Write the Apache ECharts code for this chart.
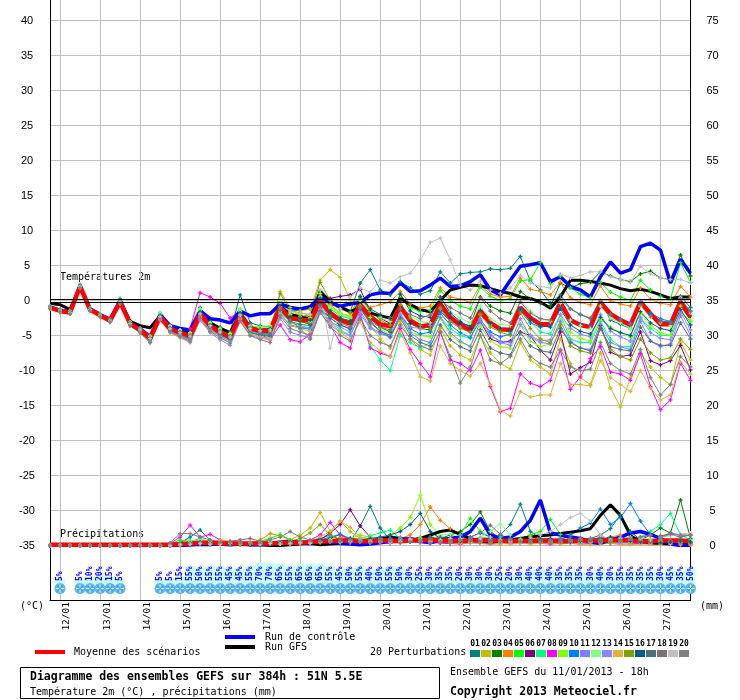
<!DOCTYPE html>
<html><head><meta charset="utf-8">
<script src="https://cdn.jsdelivr.net/npm/echarts@6/dist/echarts.min.js"></script>
<style>html,body{margin:0;padding:0;background:#fff}#c{width:740px;height:700px}</style>
</head><body><div id="c"></div>
<script>
// ---- time axis labels ----
const dayLabels = ['11/01','12/01','13/01','14/01','15/01','16/01','17/01','18/01','19/01','20/01','21/01','22/01','23/01','24/01','25/01','26/01','27/01'];
const hourLabels = ['00','06','12','18'];
const leftTicks = [-35,-30,-25,-20,-15,-10,-5,0,5,10,15,20,25,30,35,40];
const rightTicks = [0,5,10,15,20,25,30,35,40,45,50,55,60,65,70,75];

// ---- temperature 2m (°C) ----
const tMean = [-1.0,-1.5,-1.7,2.0, -1.3,-2.1,-2.9,-0.2, -3.3,-4.2,-5.4,-2.3, -4.0,-4.6,-5.1,-1.9, -3.6,-4.5,-5.2,-2.1, -4.0,-4.3,-4.2,-1.0, -2.5,-2.7,-2.9,0.0, -1.8,-2.8,-3.3,-0.6, -2.3,-3.4,-3.7,-0.9, -2.9,-3.7,-3.5,-0.5, -2.4,-3.5,-4.2,-1.5, -3.2,-4.1,-4.2,-1.0, -2.5,-3.4,-3.4,-0.3, -2.8,-3.5,-3.8,-0.3, -1.9,-2.8,-3.5,-0.2, -1.9,-3.4,-3.4,-0.2, -2.4];
const tCtrl = [-0.9,-1.4,-1.6,2.1, -1.2,-2.0,-2.7,0.0, -3.2,-4.0,-5.2,-2.0, -3.6,-4.0,-4.2,-1.5, -2.6,-2.8,-3.2,-1.5, -2.2,-1.9,-1.9,-0.5, -1.0,-1.2,-0.9,0.5, -0.3,-0.8,-0.5,-0.3, 0.8,1.1,1.0,2.5, 1.3,1.4,2.2,3.2, 2.0,2.1,2.7,3.7, 1.5,0.8,2.9,4.9, 5.1,5.4,2.7,3.4, 2.0,1.5,0.5,3.4, 5.5,3.9,4.4,7.7, 8.2,7.2,2.5,5.9, 3.9];
const tGfs = [-0.4,-0.6,-1.3,2.0, -1.2,-2.0,-2.8,0.0, -3.0,-3.6,-3.9,-2.2, -3.8,-4.2,-4.6,-1.5, -3.2,-4.0,-4.6,-1.8, -3.8,-4.3,-4.4,-0.8, -2.0,-2.4,-2.6,1.3, -0.2,-0.9,-1.6,-1.0, -1.8,-2.2,-2.5,0.3, -0.6,-1.3,-1.6,0.0, 1.5,1.9,2.2,2.1, 1.7,1.3,1.0,0.5, 0.3,-0.2,-1.1,0.5, 2.9,2.9,2.7,2.5, 2.2,1.7,1.4,1.6, 1.3,0.8,0.3,0.5, 0.5];
const t01 = [-0.8,-1.3,-1.5,2.3, -1.1,-1.9,-2.7,0.3, -3.1,-4.0,-5.0,-1.8, -3.6,-4.2,-4.6,-1.0, -3.0,-3.8,-4.5,0.8, -3.2,-3.6,-3.8,-0.2, -1.5,-1.4,-1.2,1.4, -0.5,-1.2,-1.6,2.5, 4.4,1.5,0.8,2.7, 1.8,0.9,1.4,4.1, 2.5,3.8,4.0,4.1, 4.5,4.4,4.6,6.3, 2.8,1.5,-0.4,0.8, -1.2,-2.0,-2.6,-0.1, -2.8,-3.4,-4.0,-0.5, -2.0,-2.9,-3.1,0.6, -1.0];
const t02 = [-1.1,-1.6,-1.8,1.8, -1.4,-2.2,-3.0,-0.4, -3.5,-4.4,-5.7,-2.6, -4.3,-5.0,-5.6,-2.2, -4.0,-5.0,-5.8,-2.6, -4.5,-4.9,-4.8,1.3, -1.0,-1.5,-1.2,2.9, 4.4,3.3,0.0,-0.8, -3.5,-5.5,-6.8,-3.0, -5.5,-7.0,-7.8,-4.0, -6.5,-7.8,-8.5,-5.0, -7.5,-9.0,-9.8,-6.0, -8.5,-9.5,-10.5,-5.5, -9.0,-11.0,-12.0,-7.5, -12.5,-15.2,-11.0,-7.5, -9.5,-11.0,-12.0,-6.0, -8.5];
const t03 = [-1.0,-1.4,-1.7,2.1, -1.3,-2.0,-2.8,-0.1, -3.3,-4.3,-5.6,-2.4, -4.1,-4.8,-5.4,-2.0, -3.8,-4.8,-5.5,-2.3, -4.5,-5.0,-5.1,-1.5, -2.8,-3.0,-3.4,-0.5, -2.0,-2.9,-3.2,-0.2, -2.6,-3.8,-4.5,-1.2, -3.3,-4.0,-4.2,-1.5, -3.0,-3.3,-3.6,0.5, -0.8,-1.5,-1.8,1.3, 0.2,-0.4,-0.8,2.5, 1.8,2.4,2.6,4.1, 3.5,3.0,2.7,3.8, 4.2,3.2,3.0,6.5, 3.5];
const t04 = [-1.2,-1.7,-1.9,1.8, -1.5,-2.3,-3.1,-0.4, -3.5,-4.5,-5.9,-2.6, -4.4,-5.0,-5.6,-2.3, -4.1,-5.0,-5.6,-2.4, -4.6,-4.9,-4.7,-0.9, -2.0,-2.1,-2.3,0.8, -0.6,-1.8,-2.3,0.2, -1.0,-0.6,-0.2,1.3, -0.5,-1.1,-0.8,1.8, 0.5,0.2,-0.3,2.2, 0.9,0.5,0.6,3.2, 1.6,1.3,0.8,2.6, 0.4,-0.3,-0.6,2.1, 0.0,-0.5,-0.8,1.8, 0.2,-0.4,-0.6,2.0, 0.5];
const t05 = [-0.9,-1.5,-1.6,2.0, -1.2,-2.0,-2.8,0.0, -3.2,-4.1,-5.2,-2.0, -3.8,-4.4,-4.9,-1.5, -3.5,-4.3,-5.0,-1.8, -3.8,-4.0,-3.9,-0.5, -2.0,-2.3,-2.5,0.6, -1.2,-2.2,-2.6,0.4, -1.5,-2.3,-2.5,0.9, -1.0,-1.6,-1.4,1.4, 0.0,-0.8,-1.2,1.9, 0.6,0.0,0.3,2.8, 3.0,5.4,2.4,3.5, 1.8,0.9,0.4,2.6, 1.2,0.5,0.0,2.9, 1.5,0.6,0.2,5.4, 2.6];
const t06 = [-1.0,-1.6,-1.8,1.9, -1.4,-2.2,-3.0,-0.3, -3.4,-4.3,-5.5,-2.4, -4.2,-4.7,-5.3,-2.0, -3.7,-4.6,-5.3,-2.2, -4.1,-4.4,-4.3,-0.2, -2.0,-2.1,-2.3,0.9, 0.3,0.6,0.8,1.6, -1.5,-2.5,-3.3,-0.2, -3.0,-3.5,-3.8,-1.0, -2.5,-3.2,-4.0,-3.0, -5.5,-6.0,-5.8,-4.5, -5.0,-7.1,-8.5,-4.5, -10.5,-9.6,-8.8,-3.6, -7.4,-8.0,-7.8,-4.5, -8.6,-9.2,-8.6,-6.4, -9.9];
const t07 = [-1.1,-1.6,-1.8,1.9, -1.4,-2.2,-3.0,-0.3, -3.4,-4.4,-5.6,-2.3, -4.2,-4.9,-5.5,-1.4, -3.4,-4.5,-5.2,-2.0, -4.4,-4.6,-4.5,-1.6, -3.2,-3.6,-3.9,-0.8, -3.0,-4.2,-5.0,-2.0, -6.5,-8.5,-10.0,-5.0, -6.0,-6.8,-6.0,-2.4, -4.0,-5.0,-5.4,-2.0, -3.5,-4.0,-4.6,-1.2, -3.0,-4.5,-4.8,-2.0, -5.5,-6.0,-6.0,-3.0, -5.5,-6.6,-6.6,-2.5, -4.0,-5.0,-5.0,-1.6, -3.0];
const t08 = [-1.0,-1.5,-1.7,2.0, -1.3,-2.1,-2.9,-0.2, -3.3,-4.2,-5.3,-2.2, -3.8,-4.2,-4.0,1.1, 0.5,-0.4,-2.5,-1.5, -3.5,-4.8,-5.6,-3.5, -5.6,-5.9,-4.8,-1.0, -3.5,-6.0,-6.8,-2.0, -6.8,-7.5,-8.0,-4.0, -7.0,-9.0,-10.9,-4.5, -8.5,-9.0,-10.0,-7.1, -12.3,-15.9,-15.4,-10.5, -11.8,-12.3,-11.4,-7.1, -12.7,-10.9,-8.3,-6.6, -10.2,-10.5,-11.4,-7.6, -12.3,-15.6,-14.2,-9.0, -11.4];
const t09 = [-0.9,-1.4,-1.6,2.1, -1.2,-2.0,-2.8,0.1, -3.1,-4.0,-5.1,-1.9, -3.7,-4.3,-4.8,-1.3, -3.2,-4.0,-4.7,-1.2, -3.6,-3.8,-3.6,-0.2, -1.7,-2.0,-2.4,1.0, -0.9,-1.8,-2.3,0.6, -2.4,-4.0,-5.0,-2.0, -4.5,-5.0,-5.2,-2.5, -5.0,-6.0,-6.5,-3.6, -5.8,-6.6,-6.8,-3.5, -5.8,-6.6,-6.2,-2.8, -4.5,-5.4,-5.8,-2.6, -3.8,-4.6,-5.2,-1.8, -3.6,-4.6,-5.0,-0.8, -2.8];
const t10 = [-1.1,-1.6,-1.8,1.9, -1.3,-2.2,-3.0,-0.3, -3.5,-4.5,-5.8,-2.5, -4.3,-5.0,-5.6,-2.1, -3.9,-4.9,-5.6,-2.3, -4.6,-4.9,-5.0,-1.8, -3.6,-3.9,-4.1,-1.2, -2.5,-3.5,-4.1,-1.0, -3.0,-4.4,-5.0,-2.0, -4.0,-4.8,-4.5,-1.8, -3.5,-4.6,-5.3,-2.8, -4.5,-5.2,-4.8,-1.5, -3.2,-3.8,-3.6,-1.0, -2.8,-3.4,-3.6,-0.9, -2.0,-2.6,-3.2,-0.2, -1.8,-2.6,-3.0,0.2, -1.5];
const t11 = [-1.0,-1.5,-1.8,2.0, -1.4,-2.2,-3.0,-0.3, -3.4,-4.4,-5.6,-2.6, -4.4,-5.0,-5.6,-2.4, -4.2,-5.1,-5.8,-2.6, -4.8,-5.2,-5.4,-2.0, -3.5,-3.8,-4.0,-1.5, -3.0,-3.8,-4.5,-1.5, -3.8,-4.6,-5.3,-2.2, -4.6,-5.6,-6.0,-2.4, -4.6,-5.8,-6.6,-3.0, -5.0,-5.8,-6.0,-2.6, -5.2,-6.0,-6.2,-3.0, -5.8,-6.8,-7.0,-3.4, -6.0,-6.6,-7.0,-3.0, -5.8,-6.6,-6.2,-2.2, -5.0];
const t12 = [-0.8,-1.3,-1.5,2.2, -1.1,-1.9,-2.7,0.2, -3.1,-4.0,-5.1,-1.8, -3.6,-4.2,-4.6,-1.2, -3.2,-4.1,-4.8,-1.5, -3.8,-4.0,-3.8,0.0, -2.0,-2.6,-3.0,0.5, -1.0,-2.0,-2.5,0.0, -1.5,-2.5,-3.0,-0.5, -2.2,-3.0,-3.2,0.4, -1.6,-2.5,-3.2,-0.8, -2.6,-3.4,-3.6,0.0, -1.5,-2.6,-3.0,-0.4, -2.8,-3.6,-4.0,-0.8, -2.5,-3.2,-4.0,-0.8, -2.4,-3.2,-3.6,0.4, -1.8];
const t13 = [-1.1,-1.6,-1.8,2.0, -1.4,-2.2,-3.0,-0.4, -3.6,-4.6,-6.0,-2.7, -4.6,-5.3,-6.0,-2.8, -4.6,-5.6,-6.4,-3.0, -5.0,-5.4,-5.6,-2.6, -4.5,-5.0,-5.3,-1.8, -3.5,-4.5,-5.0,-1.9, -4.0,-4.8,-5.0,-2.0, -3.8,-4.0,-3.6,-1.2, -3.0,-3.8,-4.6,-2.6, -4.8,-6.0,-6.4,-3.4, -5.0,-5.8,-5.6,-2.0, -4.0,-4.8,-5.2,-2.0, -4.4,-5.2,-5.8,-2.4, -4.6,-5.4,-5.6,-1.6, -4.2];
const t14 = [-1.2,-1.7,-1.9,1.8, -1.5,-2.3,-3.1,-0.4, -3.6,-4.6,-6.0,-2.8, -4.6,-5.3,-5.8,-2.6, -4.4,-5.3,-6.0,-2.7, -4.8,-5.2,-5.5,-1.8, -3.5,-4.0,-4.4,-1.3, -3.2,-4.5,-5.6,-3.0, -6.0,-7.2,-8.0,-4.5, -7.5,-10.9,-11.5,-6.5, -9.0,-10.0,-10.8,-9.0, -12.0,-15.7,-16.5,-13.0, -13.8,-13.5,-13.5,-9.0, -12.0,-12.0,-12.2,-8.6, -11.0,-12.0,-13.0,-10.0, -12.5,-14.2,-13.5,-8.8, -10.5];
const t15 = [-1.0,-1.5,-1.7,2.0, -1.3,-2.1,-2.9,-0.2, -3.3,-4.2,-5.4,-2.3, -4.0,-4.6,-5.1,-1.8, -3.6,-4.5,-5.2,-2.0, -4.1,-4.4,-4.2,1.0, -1.4,-1.8,-2.0,2.6, 0.0,-1.2,-1.8,0.5, -1.5,-2.8,-3.5,-0.6, -2.5,-3.5,-4.0,-1.0, -3.0,-4.0,-4.5,-2.0, -3.8,-4.5,-5.0,-1.8, -4.0,-5.5,-6.0,-3.5, -6.5,-7.2,-7.5,-4.0, -7.0,-8.0,-8.5,-5.5, -7.5,-8.5,-8.2,-5.5, -7.0];
const t16 = [-0.9,-1.4,-1.6,2.1, -1.2,-2.0,-2.8,0.1, -3.2,-4.1,-5.3,-2.1, -3.9,-4.5,-5.0,-1.6, -3.5,-4.4,-5.1,-1.8, -3.9,-4.1,-4.0,-0.6, -2.3,-2.6,-2.8,0.3, -1.5,-2.5,-2.9,0.6, -1.2,-2.0,-2.6,0.9, -1.5,-2.2,-2.4,0.5, -1.8,-3.0,-3.8,-1.4, -3.2,-4.0,-4.2,-1.2, -2.8,-3.6,-3.8,-1.2, -3.5,-4.4,-4.8,-2.4, -4.0,-4.6,-5.0,-1.6, -3.2,-4.0,-4.3,-1.3, -3.5];
const t17 = [-1.0,-1.5,-1.7,2.0, -1.3,-2.1,-2.9,-0.2, -3.3,-4.2,-5.5,-2.4, -4.1,-4.7,-5.2,-1.9, -3.8,-4.7,-5.4,-2.3, -4.3,-4.7,-4.8,-1.4, -3.0,-3.4,-3.6,-0.6, -2.5,-3.5,-4.0,-1.2, -3.2,-4.4,-5.2,-2.5, -5.0,-6.0,-6.5,-3.5, -5.6,-6.6,-7.2,-4.2, -6.8,-7.5,-7.8,-4.6, -6.5,-7.2,-7.4,-4.0, -6.0,-6.8,-7.2,-4.0, -6.6,-7.0,-7.2,-3.8, -5.8,-6.4,-6.4,-3.2, -5.5];
const t18 = [-1.1,-1.6,-1.8,1.9, -1.4,-2.2,-3.0,-0.3, -3.4,-4.3,-5.5,-2.4, -4.1,-4.8,-5.3,-2.0, -3.8,-4.7,-5.4,-2.2, -4.3,-4.6,-4.6,-1.2, -2.8,-4.0,-5.5,-1.5, -2.2,-3.2,-3.8,-1.0, -3.0,-3.8,-4.2,-1.2, -2.0,-2.6,-2.0,0.0, -1.0,-1.8,-2.5,0.4, -1.5,-2.6,-3.2,-0.2, -1.8,-2.6,-2.8,0.2, -1.2,-2.0,-2.5,0.0, -2.0,-2.8,-3.4,-0.6, -2.2,-3.0,-3.2,0.2, -1.6];
const t19 = [-1.0,-1.5,-1.7,2.0, -1.3,-2.1,-2.9,-0.2, -3.3,-4.2,-5.4,-2.3, -4.0,-4.6,-5.1,-1.9, -3.6,-4.5,-5.2,-2.1, -4.0,-4.3,-4.2,-0.2, -1.5,-1.8,-2.0,1.5, -6.8,-1.2,0.5,1.8, 1.2,2.9,2.5,3.4, 3.9,5.8,8.3,8.9, 5.8,2.2,1.5,2.8, 1.5,1.0,1.8,3.6, 2.5,2.0,1.8,3.8, 3.2,3.6,4.1,4.1, 3.4,3.0,2.6,4.9, 3.8,3.2,3.0,3.0, 2.5];
const t20 = [-1.1,-1.6,-1.9,1.8, -1.5,-2.3,-3.1,-0.5, -3.6,-4.6,-6.0,-2.8, -4.5,-5.2,-5.8,-2.6, -4.4,-5.3,-6.1,-2.9, -5.0,-5.6,-6.0,-2.2, -4.0,-4.5,-5.0,-1.6, -3.8,-5.0,-5.8,-2.6, -5.0,-6.0,-6.5,-3.5, -5.5,-6.5,-7.0,-4.5, -8.0,-11.8,-9.5,-5.0, -8.5,-9.0,-8.0,-5.5, -8.0,-9.0,-9.5,-7.0, -9.5,-10.0,-9.8,-6.0, -9.0,-10.0,-10.5,-7.0, -11.0,-13.5,-12.0,-8.0, -9.5];

// ---- precipitation (mm, right axis) ----
const pMean = [0.1,0.1,0.1,0.1, 0.1,0.1,0.1,0.1, 0.1,0.1,0.1,0.1, 0.1,0.2,0.3,0.4, 0.4,0.3,0.3,0.3, 0.3,0.3,0.3,0.4, 0.4,0.4,0.5,0.6, 0.6,0.7,0.7,0.6, 0.6,0.7,0.7,0.6, 0.7,0.8,0.8,0.7, 0.7,0.6,0.7,0.8, 0.7,0.7,0.6,0.7, 0.6,0.7,0.7,0.6, 0.6,0.7,0.7,0.7, 0.8,0.8,0.7,0.6, 0.6,0.7,0.7,0.7, 0.6];
const pCtrl = [0,0,0,0, 0.1,0.1,0,0, 0,0,0,0, 0,0,0.1,0.2, 0.3,0.2,0.1,0.2, 0.1,0.1,0.2,0.5, 0.6,0.4,0.3,0.6, 0.5,0.3,0.2,0.1, 0.2,0.4,0.6,0.8, 1.0,0.6,0.4,0.8, 1.0,1.2,2.0,3.9, 1.5,1.0,1.2,2.0, 3.6,6.5,1.8,1.5, 1.2,1.0,0.5,0.3, 0.8,1.2,1.8,2.0, 1.6,1.0,0.2,0.0, 0.0];
const pGfs = [0,0,0,0, 0,0,0.1,0.1, 0,0,0,0, 0,0,0.1,0.1, 0.1,0.2,0.3,0.2, 0.1,0.1,0,0, 0.1,0.2,0.3,0.1, 0.2,0.3,0.5,0.4, 0.6,0.9,1.2,1.0, 0.8,1.0,1.5,2.0, 2.2,1.6,1.0,0.6, 0.5,0.6,0.8,1.0, 1.2,1.4,1.5,1.7, 1.9,2.1,2.4,4.3, 5.8,4.3,1.4,0.6, 0.4,0.3,0.2,0.1, 0.1];
const p01 = [0,0,0,0, 0.1,0.1,0,0, 0,0,0,0, 0,0.4,1.2,2.2, 0.8,0.4,0.2,0.3, 0.2,0.1,0.3,0.5, 0.4,0.3,0.6,1.0, 1.5,0.8,0.6,2.8, 5.6,2.5,0.8,0.5, 0.6,1.0,1.2,0.8, 0.6,0.4,0.5,0.8, 1.0,1.5,3.0,5.9, 2.0,1.0,0.6,0.4, 0.5,0.8,1.0,1.5, 2.4,4.4,2.0,0.8, 0.6,0.8,0.5,0.6, 0.4];
const p02 = [0,0,0,0, 0,0.1,0.1,0, 0,0,0,0, 0,0.2,0.5,0.6, 0.4,0.3,0.2,0.2, 0.3,0.4,0.6,0.5, 0.8,1.5,2.5,4.7, 2.0,3.5,2.0,1.0, 0.6,0.4,0.5,0.8, 1.0,0.8,0.5,0.4, 0.3,0.5,0.6,0.4, 0.3,0.2,0.4,0.6, 0.5,0.4,0.3,0.5, 0.6,0.8,0.5,0.4, 0.3,0.4,0.6,0.5, 0.3,0.2,0.4,0.3, 0.2];
const p03 = [0,0,0,0, 0,0,0.1,0, 0,0,0,0, 0,0.1,0.3,0.4, 0.2,0.3,0.2,0.1, 0.2,0.1,0.2,0.3, 0.4,0.6,0.5,0.8, 1.0,1.6,0.8,0.5, 0.4,0.6,0.8,0.6, 0.5,0.8,1.2,1.0, 1.5,2.0,3.0,4.8, 2.0,1.0,0.6,0.5, 0.4,0.6,0.8,0.6, 0.5,0.4,0.6,0.8, 1.0,0.8,0.6,0.8, 1.5,2.5,1.8,6.5, 1.0];
const p04 = [0,0,0,0, 0,0,0,0, 0,0,0,0, 0,0,0.2,0.4, 0.3,0.5,0.4,0.3, 0.2,0.8,1.7,1.4, 0.8,0.6,0.5,0.4, 0.6,1.2,0.8,0.5, 0.4,0.6,0.5,1.0, 1.5,3.0,5.5,3.6, 2.4,1.5,0.8,0.6, 0.5,0.4,0.6,0.8, 1.2,0.8,0.5,0.6, 0.8,1.0,0.6,0.5, 1.2,1.5,1.0,0.6, 0.5,0.4,0.6,0.5, 0.4];
const p05 = [0,0,0,0.1, 0.1,0,0,0, 0,0,0,0, 0.2,0.8,0.6,0.4, 0.3,0.2,0.2,0.3, 0.4,0.6,1.0,1.6, 0.8,0.5,0.4,0.6, 0.5,0.4,0.8,0.6, 0.5,0.8,1.0,0.6, 0.8,1.2,0.8,0.6, 0.8,1.5,3.9,2.0, 1.2,0.8,0.6,1.0, 1.5,2.0,3.7,1.6, 0.8,0.6,0.5,0.8, 1.0,0.6,0.5,0.4, 0.6,0.8,0.6,0.5, 0.4];
const p06 = [0,0,0,0, 0,0,0,0, 0,0,0,0, 0,0.1,0.2,0.3, 0.2,0.2,0.3,0.2, 0.1,0.2,0.3,0.2, 0.3,0.5,0.6,0.8, 1.8,3.0,5.1,2.8, 1.2,0.6,0.4,0.5, 0.6,0.8,0.5,0.4, 0.3,0.5,0.6,0.4, 0.3,0.5,0.6,0.4, 0.5,0.6,0.4,0.3, 0.4,0.5,0.6,0.4, 0.3,0.5,0.4,0.3, 0.4,0.3,0.2,0.3, 0.2];
const p07 = [0,0,0,0, 0,0,0,0, 0,0,0,0, 0,0.2,0.6,1.0, 0.5,0.3,0.2,0.2, 0.2,0.3,0.2,0.3, 0.4,0.3,0.5,0.6, 0.8,0.6,0.8,1.0, 1.4,1.8,2.2,1.0, 0.6,0.5,0.8,0.6, 0.8,0.6,0.5,0.6, 0.8,1.2,1.0,0.8, 0.6,0.5,0.6,0.4, 0.5,0.4,0.6,0.8, 0.6,1.0,0.8,1.2, 2.0,3.0,4.6,1.5, 0.8];
const p08 = [0,0,0,0, 0,0,0,0, 0,0,0,0, 0.3,1.2,2.9,1.2, 1.6,0.8,0.4,0.3, 0.2,0.2,0.3,0.4, 0.5,0.6,0.8,1.5, 3.3,1.5,0.8,0.6, 0.5,0.4,0.3,0.5, 0.6,0.4,0.3,0.4, 0.3,0.2,0.4,0.3, 0.2,0.3,0.4,0.3, 0.4,0.3,0.2,0.3, 0.3,0.2,0.3,0.4, 0.3,0.2,0.2,0.3, 0.2,0.3,0.2,0.2, 0.1];
const p09 = [0,0,0,0, 0,0,0,0, 0,0,0,0, 0,0.1,0.2,0.3, 0.2,0.3,0.4,0.3, 0.2,0.3,0.4,0.5, 0.6,0.8,0.6,0.5, 0.6,0.8,1.0,1.5, 1.2,1.0,1.5,2.5, 4.0,7.2,3.0,1.5, 0.8,0.6,0.5,0.6, 0.5,0.4,0.6,0.5, 0.4,0.6,0.8,0.5, 0.4,0.5,0.4,0.6, 0.8,0.6,0.4,0.5, 0.6,0.5,0.4,0.5, 0.3];
const p10 = [0,0,0,0, 0,0,0,0, 0,0,0,0, 0,0.1,0.2,0.2, 0.1,0.2,0.2,0.3, 0.2,0.1,0.2,0.3, 0.4,0.5,0.6,0.8, 1.2,1.6,1.0,0.8, 0.6,0.5,0.8,0.6, 0.5,0.6,0.4,0.5, 0.6,0.8,1.2,1.8, 1.2,0.8,0.6,0.5, 0.6,0.8,0.6,0.8, 1.5,2.5,3.2,5.2, 3.0,4.0,6.0,3.5, 1.5,1.0,0.6,0.4, 0.3];
const p11 = [0,0,0,0, 0,0,0,0, 0,0,0,0, 0,0.1,0.3,0.4, 0.3,0.2,0.2,0.3, 0.2,0.3,0.2,0.3, 0.3,0.4,0.5,0.6, 0.5,0.6,0.8,0.5, 0.4,0.6,0.8,1.2, 1.0,0.8,0.6,0.8, 1.0,1.4,1.0,0.8, 0.6,0.5,0.8,0.6, 0.5,0.6,0.8,1.0, 0.8,0.6,0.5,0.6, 0.8,1.2,0.8,0.6, 0.5,0.8,0.6,0.5, 0.4];
const p12 = [0,0,0,0, 0,0,0,0, 0,0,0,0, 0,0.2,0.5,0.8, 0.6,0.4,0.2,0.3, 0.2,0.4,0.6,0.5, 0.4,0.3,0.5,0.6, 0.8,0.5,0.6,0.8, 1.0,0.8,0.6,0.5, 0.8,1.0,0.8,1.5, 1.6,1.0,0.8,1.2, 2.0,3.1,1.5,0.8, 0.6,0.8,0.5,0.6, 0.5,0.6,0.8,0.5, 0.4,0.6,0.5,0.8, 1.0,0.6,0.5,0.4, 0.3];
const p13 = [0,0,0,0, 0,0,0,0, 0,0,0,0, 0,0.1,0.2,0.3, 0.2,0.2,0.3,0.2, 0.3,0.2,0.2,0.3, 0.2,0.3,0.4,0.5, 0.6,0.5,0.4,0.6, 0.8,1.0,0.8,0.6, 0.5,0.6,0.8,0.6, 0.5,0.4,0.6,0.8, 0.6,0.5,0.4,0.6, 0.8,0.6,0.5,0.4, 0.5,0.6,0.8,0.6, 0.5,0.4,0.6,0.8, 0.6,0.5,0.4,0.6, 0.5];
const p14 = [0,0,0,0, 0,0,0,0, 0,0,0,0, 0,0.1,0.3,0.6, 0.5,0.8,0.6,0.4, 0.3,0.2,0.3,0.2, 0.3,0.4,0.6,1.2, 2.0,3.5,2.6,1.2, 0.8,0.6,0.5,0.8, 0.6,0.4,0.5,0.6, 0.4,0.3,0.4,0.3, 0.2,0.3,0.2,0.3, 0.2,0.3,0.4,0.2, 0.3,0.2,0.1,0.2, 0.3,0.2,0.1,0.2, 0.2,0.1,0.2,0.1, 0.1];
const p15 = [0,0,0,0, 0,0,0,0, 0,0,0,0, 0,0.1,0.2,0.3, 0.2,0.3,0.2,0.3, 0.2,0.3,0.4,0.5, 0.6,1.0,1.8,3.0, 1.5,0.8,0.6,0.5, 0.4,0.5,0.6,0.4, 0.5,0.6,0.8,0.6, 0.4,0.5,0.6,0.5, 0.4,0.5,0.6,0.8, 0.6,0.5,0.4,0.5, 0.6,0.8,0.6,0.5, 0.4,0.6,0.8,0.6, 0.5,0.8,0.6,0.4, 0.3];
const p16 = [0,0,0,0, 0,0,0,0, 0,0,0,0, 0,0.1,0.3,0.5, 0.4,0.3,0.2,0.3, 0.2,0.3,0.2,0.4, 0.5,0.4,0.6,0.8, 0.6,0.8,1.0,0.8, 1.0,1.2,1.5,2.0, 3.0,4.6,2.0,1.0, 0.8,0.6,0.8,1.0, 1.2,0.8,0.6,0.8, 0.6,0.8,1.0,0.6, 0.5,0.6,0.8,1.0, 1.2,0.8,0.6,0.5, 0.6,0.4,0.5,0.6, 0.5];
const p17 = [0,0,0,0, 0,0,0,0, 0,0,0,0, 0,0.2,0.4,0.5, 0.3,0.2,0.3,0.2, 0.3,0.2,0.2,0.3, 0.4,0.5,0.6,0.5, 0.6,0.8,0.6,0.8, 0.6,0.8,1.0,0.8, 0.6,0.5,0.8,1.2, 1.0,0.8,0.6,0.5, 0.6,0.8,1.0,0.6, 0.5,0.6,0.8,1.0, 1.2,1.0,0.8,0.6, 0.8,1.0,1.2,0.8, 0.6,1.4,1.6,1.2, 1.5];
const p18 = [0,0,0,0, 0,0,0,0, 0,0,0,0, 0,0.1,0.2,0.2, 0.3,0.4,0.6,0.8, 1.0,0.6,0.4,0.3, 0.4,0.5,0.6,0.5, 0.6,0.5,0.4,0.5, 0.6,0.8,0.6,0.5, 0.6,0.8,1.0,0.8, 0.6,0.8,1.2,1.8, 2.9,1.6,0.8,0.6, 0.5,0.6,0.8,0.6, 0.8,1.0,0.8,1.2, 0.8,0.6,1.0,1.2, 1.6,1.2,1.8,1.5, 1.4];
const p19 = [0,0,0,0, 0,0,0,0, 0,0,0,0, 0,0.1,0.2,0.3, 0.2,0.2,0.3,0.2, 0.3,0.2,0.3,0.2, 0.3,0.4,0.3,0.5, 0.6,0.5,0.6,0.8, 0.6,0.5,0.4,0.6, 0.8,0.6,0.5,0.8, 1.0,0.8,0.6,1.0, 1.2,0.8,0.6,0.8, 1.2,1.5,2.0,3.0, 4.0,4.6,3.5,1.5, 0.8,1.0,1.2,1.0, 0.8,1.2,1.4,1.6, 1.8];
const p20 = [0,0,0,0, 0,0,0,0, 0,0,0,0, 0.4,1.7,1.7,1.2, 0.8,0.5,0.4,0.3, 0.3,0.5,0.8,1.2, 2.0,1.2,0.8,0.6, 0.5,0.6,0.8,0.6, 0.4,0.5,0.6,0.4, 0.5,0.6,0.4,0.5, 0.6,0.8,0.6,0.5, 0.4,0.6,0.8,0.6, 0.5,0.4,0.6,0.8, 0.6,0.8,1.0,0.8, 0.6,0.8,1.0,1.2, 1.4,1.2,1.6,1.5, 1.5];

// ---- snow probability (%) per 6h step ----
const snowPct = [null,5,null,5,10,20,15,5,null,null,null,5,5,15,55,50,55,55,45,45,55,70,70,65,55,65,65,65,55,45,50,55,40,50,55,50,30,25,30,35,35,20,30,30,30,25,20,30,40,40,40,35,35,35,30,40,30,35,35,35,35,30,45,35,50];

const pertNames = ['01','02','03','04','05','06','07','08','09','10','11','12','13','14','15','16','17','18','19','20'];
const pertColors = ['#008080','#c0c000','#008000','#ff8000','#00ff00','#800080','#00ff80','#ff00ff','#80ff00','#0080ff','#8080ff','#80ff80','#8888ff','#e0b040','#80a000','#006080','#507080','#807078','#c0c0c0','#808080'];
const pertTemps = [t01,t02,t03,t04,t05,t06,t07,t08,t09,t10,t11,t12,t13,t14,t15,t16,t17,t18,t19,t20];
const pertPrecs = [p01,p02,p03,p04,p05,p06,p07,p08,p09,p10,p11,p12,p13,p14,p15,p16,p17,p18,p19,p20];

// ---- build ----
const cats = [];
for (let i = 0; i < tMean.length; i++) {
  const k = 3 + i;
  cats.push(dayLabels[Math.floor(k / 4)] + ' ' + hourLabels[k % 4]);
}
const isMidnight = (idx, val) => String(val).endsWith(' 00');
const MONO = '"DejaVu Sans Mono", "Liberation Mono", monospace';
const plusSym = 'path://M1,0H2V1H3V2H2V3H1V2H0V1H1Z';

function pertSeries(name, data, color, yIdx) {
  return { type: 'line', name: name, xAxisIndex: 1, yAxisIndex: yIdx, data: data,
    symbol: plusSym, symbolSize: 4, showAllSymbol: true, silent: true, animation: false,
    lineStyle: { color: color, width: 1 }, itemStyle: { color: color } };
}
function mainSeries(name, data, color, width, yIdx) {
  return { type: 'line', name: name, xAxisIndex: 1, yAxisIndex: yIdx, data: data,
    symbol: 'none', silent: true, animation: false, lineStyle: { color: color, width: width } };
}

const series = [];
series.push({ type: 'line', name: 'zero', xAxisIndex: 1, yAxisIndex: 2, data: tMean.map(() => null), silent: true, animation: false,
  markLine: { silent: true, symbol: 'none', animation: false, label: { show: false },
    lineStyle: { color: '#000', width: 1, type: 'solid' }, data: [{ yAxis: 0.22 }, { yAxis: -0.2 }] } });
pertPrecs.forEach((d, k) => series.push(pertSeries('P' + pertNames[k], d, pertColors[k], 3)));
pertTemps.forEach((d, k) => series.push(pertSeries('T' + pertNames[k], d, pertColors[k], 2)));
series.push(mainSeries('pGfs', pGfs, '#000000', 3, 3));
series.push(mainSeries('pCtrl', pCtrl, '#0000ff', 3.5, 3));
series.push(mainSeries('pMean', pMean, '#ff0000', 4.5, 3));
series.push(mainSeries('tGfs', tGfs, '#000000', 3, 2));
series.push(mainSeries('tCtrl', tCtrl, '#0000ff', 3.5, 2));
series.push(mainSeries('tMean', tMean, '#ff0000', 4.5, 2));

const snowData = [];
snowPct.forEach((v, i) => { if (v != null) snowData.push([i, v]); });
series.push({
  type: 'custom', name: 'snow', xAxisIndex: 2, yAxisIndex: 4, data: snowData, silent: true, animation: false,
  renderItem: function (params, api) {
    const i = api.value(0), pct = api.value(1);
    const base = api.coord([i, 0]);
    const x = base[0];
    const yTop = api.coord([i, pct])[1];
    const yBot = api.coord([i, -16])[1];
    const ys = api.coord([i, -34])[1];
    const lc = '#d8f4ff';
    return { type: 'group', children: [
      { type: 'rect', shape: { x: x - 5, y: yTop, width: 10, height: yBot - yTop }, style: { fill: '#c8ffff' } },
      { type: 'circle', shape: { cx: x, cy: ys, r: 5.5 }, style: { fill: '#5ab8ea' } },
      { type: 'line', shape: { x1: x - 4, y1: ys, x2: x + 4, y2: ys }, style: { stroke: lc, lineWidth: 1 } },
      { type: 'line', shape: { x1: x, y1: ys - 4, x2: x, y2: ys + 4 }, style: { stroke: lc, lineWidth: 1 } },
      { type: 'line', shape: { x1: x - 3, y1: ys - 3, x2: x + 3, y2: ys + 3 }, style: { stroke: '#3a8ee0', lineWidth: 1 } },
      { type: 'line', shape: { x1: x - 3, y1: ys + 3, x2: x + 3, y2: ys - 3 }, style: { stroke: '#3a8ee0', lineWidth: 1 } },
      { type: 'text', x: x, y: base[1] + 1, rotation: Math.PI / 2,
        style: { text: pct + '%', x: 0, y: 0, font: 'bold 8px ' + MONO, fill: '#0000ff',
          align: 'left', verticalAlign: 'middle', textAlign: 'left', textVerticalAlign: 'middle' } }
    ] };
  }
});

function txt(x, y, text, font, extra) {
  return Object.assign({ type: 'text', x: x, y: y, silent: true,
    style: { text: text, font: font, fill: '#000', align: 'left', verticalAlign: 'middle', textAlign: 'left', textVerticalAlign: 'middle' } }, extra || {});
}
const graphic = [
  txt(20, 606, '(°C)', '10px ' + MONO),
  txt(700, 606, '(mm)', '10px ' + MONO),
  txt(60, 277, 'Températures 2m', '10px ' + MONO),
  txt(60, 534, 'Précipitations', '10px ' + MONO),
  { type: 'line', silent: true, shape: { x1: 35, y1: 652, x2: 65, y2: 652 }, style: { stroke: '#ff0000', lineWidth: 4 } },
  txt(74, 652, 'Moyenne des scénarios', '10px ' + MONO),
  { type: 'line', silent: true, shape: { x1: 225, y1: 637, x2: 255, y2: 637 }, style: { stroke: '#0000ff', lineWidth: 4 } },
  txt(265, 637, 'Run de contrôle', '10px ' + MONO),
  { type: 'line', silent: true, shape: { x1: 225, y1: 647, x2: 255, y2: 647 }, style: { stroke: '#000000', lineWidth: 4 } },
  txt(265, 647, 'Run GFS', '10px ' + MONO),
  txt(370, 652, '20 Perturbations', '10px ' + MONO),
  { type: 'rect', silent: true, shape: { x: 20.5, y: 667.5, width: 419, height: 31 }, style: { fill: 'none', stroke: '#000', lineWidth: 1 } },
  txt(30, 677, 'Diagramme des ensembles GEFS sur 384h : 51N 5.5E', 'bold 11.5px ' + MONO),
  txt(30, 692, 'Température 2m (°C) , précipitations (mm)', '10px ' + MONO),
  txt(450, 672, 'Ensemble GEFS du 11/01/2013 - 18h', '10px ' + MONO),
  txt(450, 692, 'Copyright 2013 Meteociel.fr', 'bold 11.5px ' + MONO)
];
pertColors.forEach((c, k) => {
  graphic.push({ type: 'rect', silent: true, shape: { x: 470 + 11 * k, y: 650, width: 10, height: 7 }, style: { fill: c } });
  graphic.push({ type: 'text', silent: true, x: 475 + 11 * k, y: 644,
    style: { text: pertNames[k], font: 'bold 8px ' + MONO, fill: '#000', align: 'center', verticalAlign: 'middle', textAlign: 'center', textVerticalAlign: 'middle' } });
});

const axisFont = { fontFamily: '"Liberation Sans", Arial, sans-serif', fontSize: 11, color: '#000' };
const option = {
  animation: false,
  backgroundColor: '#fff',
  grid: [
    { left: 50, right: 49.5, top: 0, bottom: 100 },
    { left: 50, right: 49.5, top: 20.5, bottom: 154.5 },
    { left: 50, right: 49.5, top: 555, bottom: 103 }
  ],
  xAxis: [
    { gridIndex: 0, type: 'category', data: cats, boundaryGap: false,
      axisLine: { show: true, lineStyle: { color: '#000', width: 1 } }, axisTick: { show: false },
      axisLabel: { show: true, interval: isMidnight, formatter: v => v.split(' ')[0], rotate: 90, margin: 2,
        verticalAlign: 'top', lineHeight: 14, fontFamily: MONO, fontSize: 9.5, color: '#000' },
      splitLine: { show: true, interval: isMidnight, lineStyle: { color: '#c0c0c0', width: 1 } } },
    { gridIndex: 1, type: 'category', data: cats, boundaryGap: false, show: false },
    { gridIndex: 2, type: 'category', data: cats, boundaryGap: false, show: false }
  ],
  yAxis: [
    { gridIndex: 0, type: 'value', min: 0, max: 1, position: 'left',
      axisLine: { show: true, lineStyle: { color: '#000', width: 1 } }, axisTick: { show: false }, axisLabel: { show: false }, splitLine: { show: false } },
    { gridIndex: 0, type: 'value', min: 0, max: 1, position: 'right',
      axisLine: { show: true, lineStyle: { color: '#000', width: 1 } }, axisTick: { show: false }, axisLabel: { show: false }, splitLine: { show: false } },
    { gridIndex: 1, type: 'value', min: leftTicks[0], max: leftTicks[leftTicks.length - 1], interval: 5, position: 'left',
      axisLine: { show: false }, axisTick: { show: false },
      axisLabel: Object.assign({ margin: 23, align: 'center' }, axisFont),
      splitLine: { show: true, lineStyle: { color: '#c0c0c0', width: 1 } } },
    { gridIndex: 1, type: 'value', min: rightTicks[0], max: rightTicks[rightTicks.length - 1], interval: 5, position: 'right',
      axisLine: { show: false }, axisTick: { show: false },
      axisLabel: Object.assign({ margin: 22, align: 'center' }, axisFont),
      splitLine: { show: false } },
    { gridIndex: 2, type: 'value', min: -68, max: 100, show: false, splitLine: { show: false } }
  ],
  graphic: graphic,
  series: series
};
const chart = echarts.init(document.getElementById('c'), null, { renderer: 'canvas' });
chart.setOption(option);
</script>
</body></html>
